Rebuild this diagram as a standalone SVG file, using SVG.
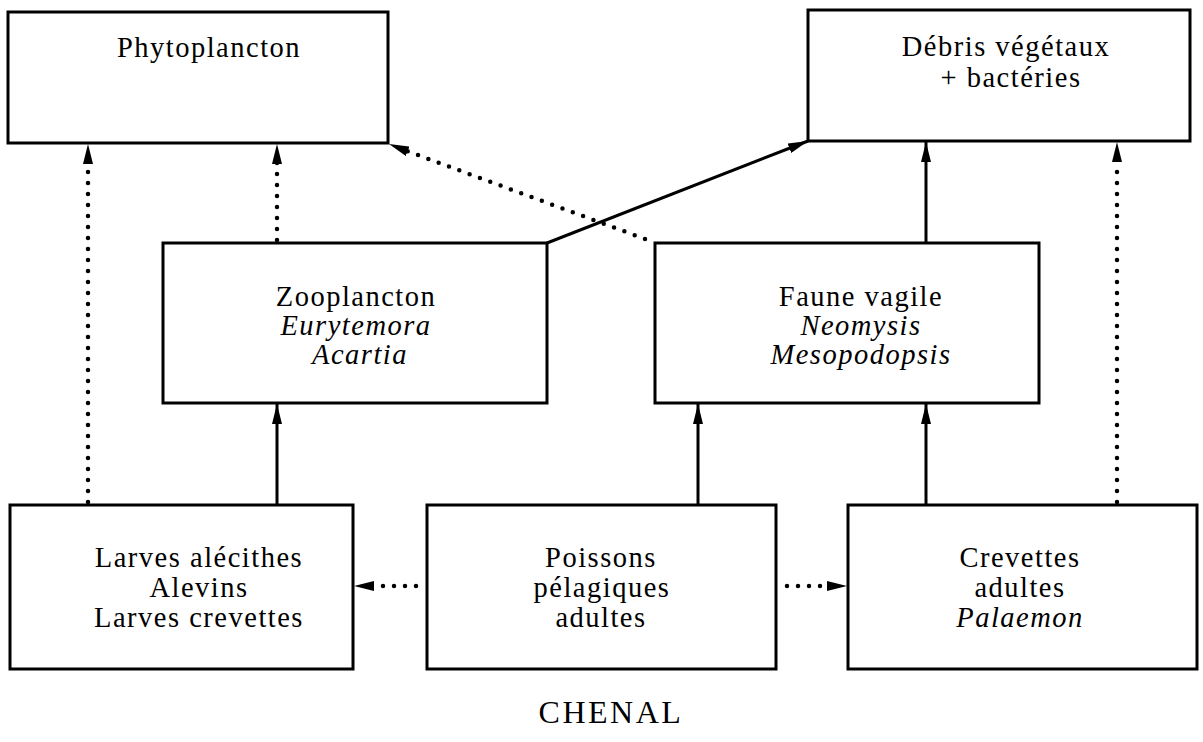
<svg xmlns="http://www.w3.org/2000/svg" width="1203" height="742" viewBox="0 0 1203 742">
<style>
.box{fill:#fff;stroke:#000;stroke-width:3}
.t{font-family:"Liberation Serif","Times New Roman",serif;font-size:28.5px;fill:#000;text-anchor:middle;letter-spacing:1.5px}
.i{font-style:italic}
.solid{fill:none;stroke:#000;stroke-width:3}
.dot{fill:none;stroke:#000;stroke-width:4.5;stroke-linecap:round;stroke-dasharray:0 11}
.cap{font-family:"Liberation Serif","Times New Roman",serif;font-size:32px;fill:#000;text-anchor:middle;letter-spacing:2.5px}
</style>
<defs>
<marker id="ah" markerUnits="userSpaceOnUse" markerWidth="20" markerHeight="10" refX="20" refY="5" orient="auto" viewBox="0 0 20 10">
<path d="M0,0 L20,5 L0,10 Z" fill="#000"/>
</marker>
</defs>
<rect width="1203" height="742" fill="#fff"/>
<g id="connectors">
<line class="dot" x1="88" y1="502" x2="88" y2="162"/>
<line x1="88" y1="168" x2="88" y2="144" stroke="none" marker-end="url(#ah)"/>
<line class="dot" x1="277" y1="240" x2="277" y2="162"/>
<line x1="277" y1="168" x2="277" y2="144" stroke="none" marker-end="url(#ah)"/>
<line class="solid" x1="277" y1="505" x2="277" y2="404" marker-end="url(#ah)"/>
<line class="solid" x1="698" y1="505" x2="698" y2="404" marker-end="url(#ah)"/>
<line class="solid" x1="926" y1="505" x2="926" y2="404" marker-end="url(#ah)"/>
<line class="dot" x1="1117" y1="502" x2="1117" y2="162"/>
<line x1="1117" y1="168" x2="1117" y2="142" stroke="none" marker-end="url(#ah)"/>
<line class="solid" x1="926" y1="243" x2="926" y2="142" marker-end="url(#ah)"/>
<line class="solid" x1="547" y1="243" x2="808" y2="141" marker-end="url(#ah)"/>
<line class="dot" x1="645" y1="239" x2="407" y2="151"/>
<line x1="412" y1="153" x2="389" y2="144" stroke="none" marker-end="url(#ah)"/>
<line class="dot" x1="416" y1="586" x2="372" y2="586"/>
<line x1="377" y1="586" x2="354" y2="586" stroke="none" marker-end="url(#ah)"/>
<line class="dot" x1="787" y1="586" x2="829" y2="586"/>
<line x1="824" y1="586" x2="847" y2="586" stroke="none" marker-end="url(#ah)"/>
</g>
<g id="phytoplancton">
<rect class="box" x="8" y="12" width="380" height="131"/>
<text class="t" x="209" y="57">Phytoplancton</text>
</g>
<g id="debris">
<rect class="box" x="808" y="10" width="382" height="131"/>
<text class="t" x="1006" y="56">Débris végétaux</text>
<text class="t" x="1011" y="87">+ bactéries</text>
</g>
<g id="zooplancton">
<rect class="box" x="163" y="243" width="384" height="160"/>
<text class="t" x="356" y="306">Zooplancton</text>
<text class="t i" x="356" y="335">Eurytemora</text>
<text class="t i" x="360" y="364">Acartia</text>
</g>
<g id="faune">
<rect class="box" x="655" y="243" width="384" height="160"/>
<text class="t" x="861" y="306">Faune vagile</text>
<text class="t i" x="861" y="335">Neomysis</text>
<text class="t i" x="861" y="364">Mesopodopsis</text>
</g>
<g id="larves">
<rect class="box" x="10" y="505" width="343" height="164"/>
<text class="t" x="199" y="567">Larves alécithes</text>
<text class="t" x="199" y="597">Alevins</text>
<text class="t" x="199" y="627">Larves crevettes</text>
</g>
<g id="poissons">
<rect class="box" x="427" y="505" width="349" height="164"/>
<text class="t" x="601" y="567">Poissons</text>
<text class="t" x="602" y="597">pélagiques</text>
<text class="t" x="601" y="627">adultes</text>
</g>
<g id="crevettes">
<rect class="box" x="848" y="505" width="349" height="164"/>
<text class="t" x="1020" y="567">Crevettes</text>
<text class="t" x="1020" y="597">adultes</text>
<text class="t i" x="1020" y="627">Palaemon</text>
</g>
<text class="cap" x="611" y="723">CHENAL</text>
</svg>
